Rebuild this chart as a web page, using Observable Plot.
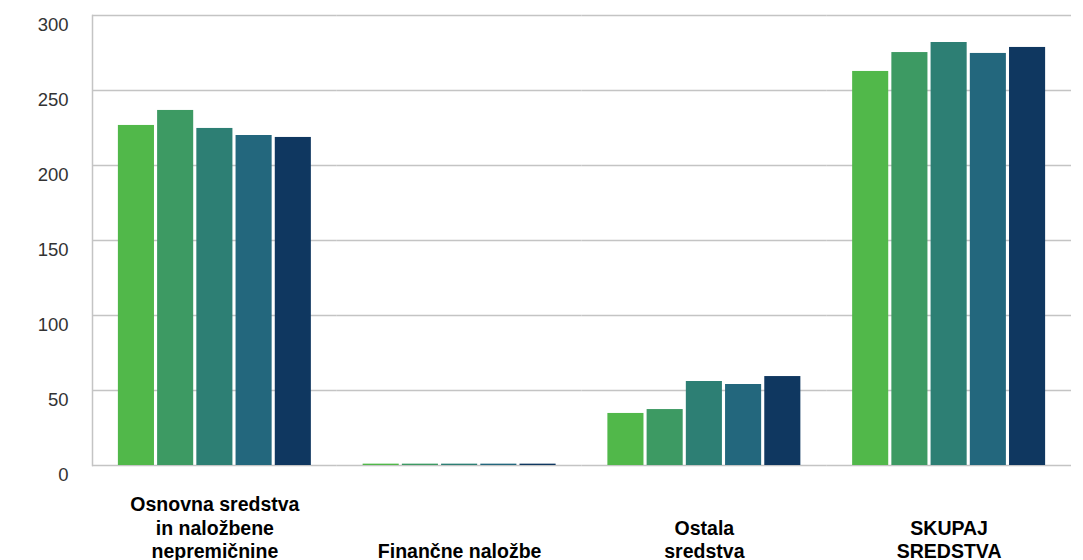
<!DOCTYPE html>
<html>
<head>
<meta charset="utf-8">
<script src="https://cdn.jsdelivr.net/npm/d3@7"></script>
<script src="https://cdn.jsdelivr.net/npm/@observablehq/plot@0.6"></script>
<style>
  html, body { margin: 0; padding: 0; background: #fff; }
  #chart { width: 1083px; height: 560px; }
</style>
</head>
<body>
<div id="chart"></div>
<script>
const categories = [
  "Osnovna sredstva\nin naložbene\nnepremičnine",
  "Finančne naložbe",
  "Ostala\nsredstva",
  "SKUPAJ\nSREDSTVA"
];
const series = ["S1", "S2", "S3", "S4", "S5"];
const colors = ["#51b84a", "#3d9a63", "#2d7f74", "#23677d", "#0f3760"];
const valuesS1 = [226.7, 0.9, 34.7, 262.7];
const valuesS2 = [236.7, 0.9, 37.3, 275.3];
const valuesS3 = [224.7, 0.9, 56.0, 282.0];
const valuesS4 = [220.0, 0.9, 54.0, 274.7];
const valuesS5 = [218.7, 0.9, 59.3, 278.7];
const yTicks = [0, 50, 100, 150, 200, 250, 300];

const allValues = [valuesS1, valuesS2, valuesS3, valuesS4, valuesS5];
const data = [];
categories.forEach((c, i) => {
  series.forEach((s, j) => {
    data.push({category: c, series: s, value: allValues[j][i]});
  });
});

const chart = Plot.plot({
  width: 1083,
  height: 560,
  marginLeft: 92,
  marginRight: 12,
  marginTop: 15,
  marginBottom: 95,
  style: {fontFamily: "'Liberation Sans', Arial, sans-serif", background: "#fff"},
  fx: {domain: categories, padding: 0, round: false, label: null},
  x: {domain: series, paddingInner: 0.08, paddingOuter: 0.66, round: false, axis: null},
  y: {domain: [0, 300], label: null},
  color: {domain: series, range: colors},
  marks: [
    Plot.gridY(yTicks, {stroke: "#c4c4c4", strokeOpacity: 1, strokeWidth: 1.5}),
    Plot.frame({anchor: "left", facetAnchor: "left", stroke: "#c4c4c4", strokeWidth: 1.5}),
    Plot.barY(data, {fx: "category", x: "series", y: "value", fill: "series"}),
    Plot.axisY(yTicks, {tickSize: 0, tickPadding: 24, dy: 10, fontSize: 18.5, fill: "#333", label: null}),
    Plot.axisFx({anchor: "bottom", tickSize: 0, tickPadding: 0, dy: 92, lineAnchor: "bottom", lineHeight: 1.18,
      fontSize: 19.5, fontWeight: "bold", fill: "#000", label: null})
  ]
});
document.getElementById("chart").appendChild(chart);
</script>
</body>
</html>
